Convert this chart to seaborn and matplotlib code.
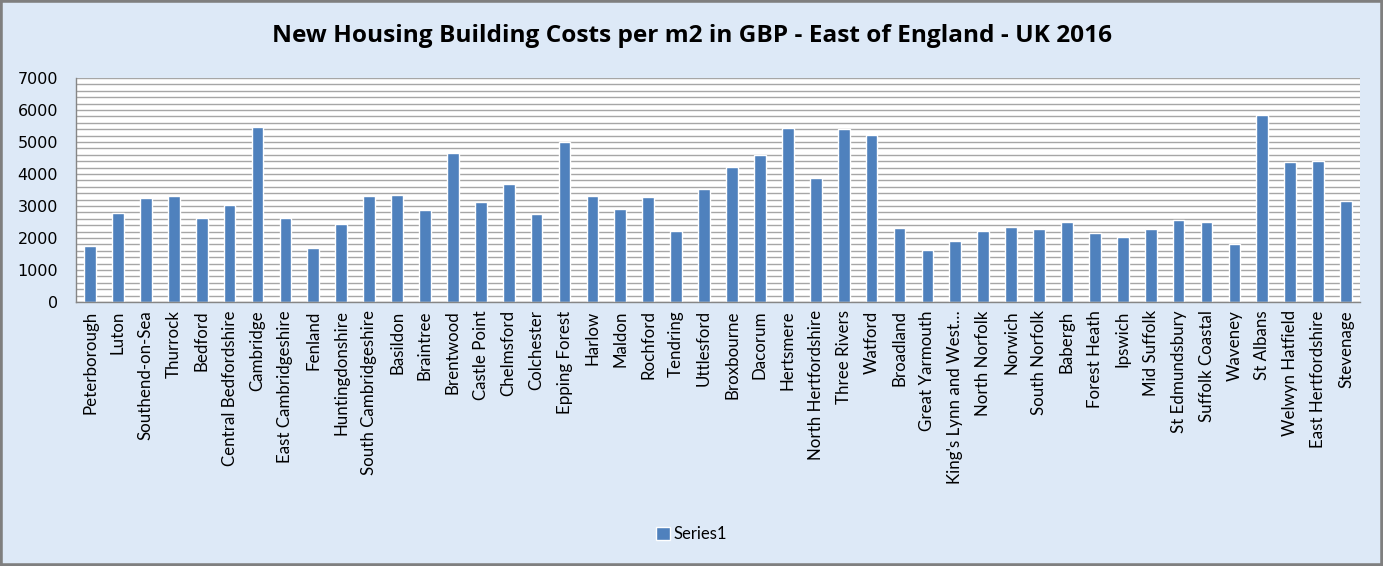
import matplotlib
matplotlib.use("Agg")
import matplotlib.pyplot as plt
from matplotlib.patches import Rectangle
from matplotlib.ticker import MultipleLocator, FixedLocator
import seaborn as sns
import pandas as pd

districts = [
    "Peterborough", "Luton", "Southend-on-Sea", "Thurrock", "Bedford",
    "Central Bedfordshire", "Cambridge", "East Cambridgeshire", "Fenland",
    "Huntingdonshire", "South Cambridgeshire", "Basildon", "Braintree",
    "Brentwood", "Castle Point", "Chelmsford", "Colchester", "Epping Forest",
    "Harlow", "Maldon", "Rochford", "Tendring", "Uttlesford", "Broxbourne",
    "Dacorum", "Hertsmere", "North Hertfordshire", "Three Rivers", "Watford",
    "Broadland", "Great Yarmouth", "King's Lynn and West\u2026", "North Norfolk",
    "Norwich", "South Norfolk", "Babergh", "Forest Heath", "Ipswich",
    "Mid Suffolk", "St Edmundsbury", "Suffolk Coastal", "Waveney", "St Albans",
    "Welwyn Hatfield", "East Hertfordshire", "Stevenage",
]
costs = [
    1760, 2790, 3260, 3320, 2635, 3040, 5480, 2635, 1700, 2450, 3320, 3355,
    2885, 4665, 3135, 3700, 2760, 4990, 3320, 2915, 3290, 2230, 3540, 4230,
    4605, 5450, 3885, 5415, 5230, 2325, 1635, 1915, 2230, 2355, 2290, 2510,
    2165, 2040, 2290, 2575, 2510, 1825, 5855, 4385, 4415, 3165,
]

df = pd.DataFrame({"district": districts, "cost": costs})

sns.set_style("white")
plt.rcParams["font.family"] = ["Lato", "DejaVu Sans"]
plt.rcParams["text.color"] = "black"
plt.rcParams["xtick.labelcolor"] = "black"
plt.rcParams["ytick.labelcolor"] = "black"

bg = "#dde9f7"
fig = plt.figure(figsize=(13.83, 5.66), dpi=100, facecolor=bg)
ax = fig.add_axes([0.055, 0.4664, 0.9284, 0.3958])
ax.set_facecolor("white")

sns.barplot(data=df, x="district", y="cost", color="#4f81bd", width=0.42,
            saturation=1, ax=ax, label="Series1")

ax.set_ylim(0, 7000)
ax.set_xlim(-0.5, len(districts) - 0.5)
ax.yaxis.set_major_locator(MultipleLocator(1000))
ax.yaxis.set_minor_locator(MultipleLocator(200))
ax.grid(True, which="both", axis="y", color="#a6a6a6", lw=1)
ax.set_axisbelow(True)

ax.xaxis.set_minor_locator(FixedLocator([i - 0.5 for i in range(len(districts) + 1)]))
ax.tick_params(axis="x", which="major", length=0, pad=6, labelsize=12.2,
               labelrotation=90)
ax.tick_params(axis="x", which="minor", length=5, color="#868686", width=1)
ax.tick_params(axis="y", which="major", length=5, color="#868686", pad=8)
ax.tick_params(axis="y", which="minor", length=0)
for lab in ax.get_xticklabels():
    lab.set_verticalalignment("top")
    lab.set_horizontalalignment("center")
for lab in ax.get_yticklabels():
    lab.set_fontfamily(["DejaVu Sans"])
    lab.set_fontsize(11.5)

for side in ["top", "right"]:
    ax.spines[side].set_visible(False)
for side in ["left", "bottom"]:
    ax.spines[side].set_color("#868686")
    ax.spines[side].set_linewidth(1)

ax.set_xlabel("")
ax.set_ylabel("")

fig.suptitle("New Housing Building Costs per m2 in GBP - East of England - UK 2016",
             y=0.958, fontsize=17.6, fontweight="bold", color="black",
             family=["Open Sans", "DejaVu Sans"])

handles, labels = ax.get_legend_handles_labels()
fig.legend(handles, labels, loc="center", bbox_to_anchor=(0.5, 0.056),
           frameon=False, fontsize=12, handlelength=0.8, handleheight=0.8,
           handletextpad=0.2)
if ax.get_legend() is not None:
    ax.get_legend().remove()

fig.patches.append(Rectangle((0, 0), 1, 1, transform=fig.transFigure,
                             fill=False, edgecolor="#7f7f7f", lw=4, zorder=10))

fig.savefig("out.png", dpi=100, facecolor=bg)
